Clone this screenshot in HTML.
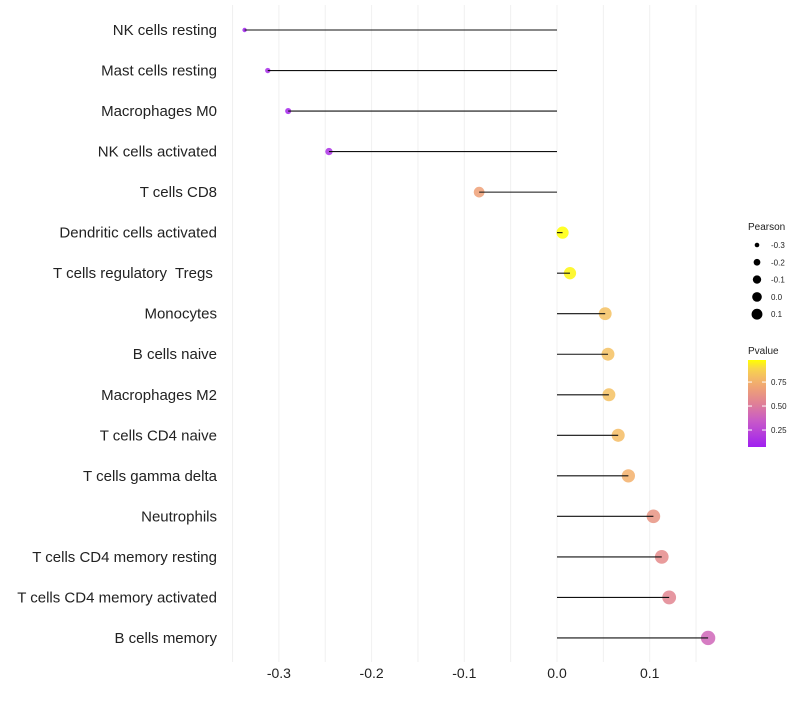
<!DOCTYPE html>
<html><head><meta charset="utf-8"><style>
body{margin:0;background:#fff;font-family:"Liberation Sans",sans-serif}
text{white-space:pre}
</style></head><body>
<svg id="chart" width="800" height="700" xmlns="http://www.w3.org/2000/svg" xml:space="preserve"></svg>
<script>
const categories=["NK cells resting","Mast cells resting","Macrophages M0","NK cells activated","T cells CD8","Dendritic cells activated","T cells regulatory  Tregs ","Monocytes","B cells naive","Macrophages M2","T cells CD4 naive","T cells gamma delta","Neutrophils","T cells CD4 memory resting","T cells CD4 memory activated","B cells memory"];
const pearson=[-0.337,-0.312,-0.290,-0.246,-0.084,0.006,0.014,0.052,0.055,0.056,0.066,0.077,0.104,0.113,0.121,0.163];
const pvalues=[0.07,0.12,0.10,0.15,0.68,0.98,0.96,0.82,0.82,0.82,0.80,0.75,0.62,0.58,0.55,0.40];
const xTicks=[-0.3,-0.2,-0.1,0.0,0.1];
const xTickLabels=["-0.3","-0.2","-0.1","0.0","0.1"];
const sizeLegend=[-0.3,-0.2,-0.1,0.0,0.1];
const sizeLegendLabels=["-0.3","-0.2","-0.1","0.0","0.1"];
const pTicks=[0.25,0.5,0.75];
const pTickLabels=["0.25","0.50","0.75"];

const svg=document.getElementById('chart');
const NS="http://www.w3.org/2000/svg";
function mk(t,a,p){const e=document.createElementNS(NS,t);for(const k in a)e.setAttribute(k,a[k]);(p||svg).appendChild(e);return e;}
const xS=v=>557+v*927;
const yS=i=>30+i*40.53;
const rS=v=>Math.sqrt(4.84+(v+0.337)*94);
const pMin=0.073,pMax=0.98;
const stops=[[0,[160,32,240]],[0.3,[200,90,200]],[0.5,[224,128,150]],[0.72,[242,170,110]],[0.88,[246,205,90]],[1,[255,255,0]]];
function col(p){let t=Math.max(0,Math.min(1,(p-pMin)/(pMax-pMin)));for(let i=1;i<stops.length;i++){if(t<=stops[i][0]){const a=stops[i-1],b=stops[i];const f=(t-a[0])/(b[0]-a[0]);const c=a[1].map((v,j)=>Math.round(v+(b[1][j]-v)*f));return `rgb(${c})`;}}return 'rgb(255,255,0)';}

for(let v=-0.35;v<=0.16;v+=0.05){const g=mk('line',{x1:xS(v),x2:xS(v),y1:5,y2:662,stroke:'#f0f0f0','stroke-width':1});

}
xTicks.forEach((v,i)=>{const t=mk('text',{x:xS(v),y:678,'text-anchor':'middle','font-size':14,fill:'#222'});t.textContent=xTickLabels[i];

});

categories.forEach((c,i)=>{
 const y=yS(i);
 const t=mk('text',{x:217,y:y+5,'text-anchor':'end','font-size':15,fill:'#222'});t.textContent=c;
 
 
 const d=mk('circle',{cx:xS(pearson[i]),cy:y,r:rS(pearson[i]),fill:col(pvalues[i]),'fill-opacity':0.85});
 
 
 const l=mk('line',{x1:xS(0),x2:xS(pearson[i]),y1:y,y2:y,stroke:'#111','stroke-width':1.1});
 
 
});

const st=mk('text',{x:748,y:230,'font-size':10,fill:'#222'});st.textContent='Pearson';


sizeLegend.forEach((v,i)=>{const y=245+i*17.3;
 const c=mk('circle',{cx:757,cy:y,r:rS(v)*0.8,fill:'#000'});
 
 
 const t=mk('text',{x:771,y:y+3,'font-size':8,fill:'#222'});t.textContent=sizeLegendLabels[i];
 
 });

const pt=mk('text',{x:748,y:354,'font-size':10,fill:'#222'});pt.textContent='Pvalue';


const defs=mk('defs',{});const lg=mk('linearGradient',{id:'pg',x1:0,y1:1,x2:0,y2:0},defs);
for(let k=0;k<=10;k++){mk('stop',{offset:k/10,'stop-color':col(pMin+(pMax-pMin)*k/10)},lg);}
const cb=mk('rect',{x:748,y:360,width:18,height:87,fill:'url(#pg)'});


const cbY=p=>447-(p-pMin)/(pMax-pMin)*87;
pTicks.forEach((p,i)=>{mk('line',{x1:748,x2:752,y1:cbY(p),y2:cbY(p),stroke:'#fff'});mk('line',{x1:762,x2:766,y1:cbY(p),y2:cbY(p),stroke:'#fff'});
 const t=mk('text',{x:771,y:cbY(p)+3,'font-size':8,fill:'#222'});t.textContent=pTickLabels[i];
 
 });
</script>
</body></html>
